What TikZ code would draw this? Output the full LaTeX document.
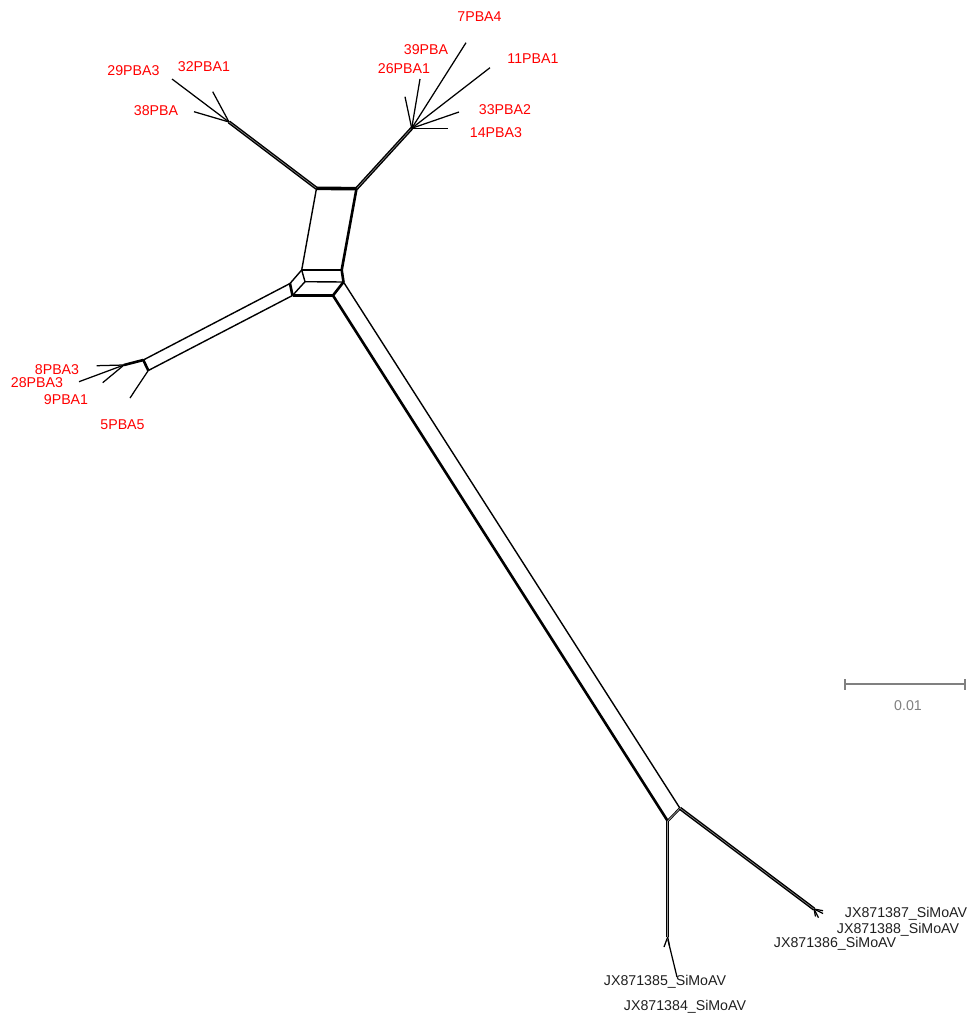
\documentclass[tikz,border=0pt]{standalone}
\usepackage{fontspec}
\setmainfont{Liberation Sans}
\begin{document}
\begin{tikzpicture}[x=1pt,y=-1pt,
  leaf/.style={line width=1.25pt},
  thinedge/.style={line width=1.4pt},
  boldedge/.style={line width=2.6pt},
  heavyedge/.style={line width=3.6pt},
  dbl/.style={double=black!40, double distance=0.5pt, line width=1.45pt},
  dblthin/.style={double=black!30, double distance=0.6pt, line width=0.9pt},
  lab/.style={inner sep=0pt, font=\fontsize{14.2}{16}\selectfont},
  redlab/.style={lab, text=red},
  blklab/.style={lab, text=black!88},
  scalecol/.style={draw=black!50, line width=1.4pt}
]
\useasboundingbox (0,0) rectangle (973,1018);

% network vertices
\coordinate (J1) at (229,122);
\coordinate (J2) at (411.7,128.3);
\coordinate (H) at (316.5,188.3);
\coordinate (I) at (356.5,188.7);
\coordinate (A) at (301.7,270);
\coordinate (B) at (341.7,270);
\coordinate (C) at (305,281.7);
\coordinate (D) at (343.5,282);
\coordinate (G) at (290,283.5);
\coordinate (E) at (292.5,295.5);
\coordinate (F) at (333,295.5);
\coordinate (L1) at (124,365);
\coordinate (L2) at (143.3,360);
\coordinate (L3) at (148.3,370.5);
\coordinate (P) at (667.7,821);
\coordinate (Q) at (680,808.3);
\coordinate (R) at (667.7,937);
\coordinate (S) at (814,909);

% leaf tips
\coordinate (t29) at (172,79);
\coordinate (t32) at (212.7,91.7);
\coordinate (t38) at (194,111.7);
\coordinate (t7) at (466,42.7);
\coordinate (t11) at (490,67.7);
\coordinate (t39) at (420,79);
\coordinate (t26) at (405,96.7);
\coordinate (t33) at (459,112);
\coordinate (t14) at (448,128.3);
\coordinate (t8) at (96.7,365.7);
\coordinate (t28) at (79,381.7);
\coordinate (t9) at (102.7,382.7);
\coordinate (t5) at (130,398);
\coordinate (R1) at (668,940);
\coordinate (t85) at (677,977);
\coordinate (t84a) at (664,947);
\coordinate (t84b) at (669.5,946);
\coordinate (s1) at (823,910.7);
\coordinate (s2) at (823,913.5);
\coordinate (s3) at (818.5,917.7);
\coordinate (s4) at (815.5,916.5);

% central splits
\draw[dbl] (J1) -- (H);
\draw[dbl] (J2) -- (I);
\draw[heavyedge] (H) -- (I);
\draw[thinedge] (H) -- (A);
\draw[boldedge] (I) -- (B);
\draw[boldedge] (A) -- (B);
\draw[thinedge] (A) -- (C);
\draw[thinedge] (C) -- (D);
\draw[boldedge] (B) -- (D);
\draw[thinedge] (A) -- (G);
\draw[boldedge] (G) -- (E);
\draw[thinedge] (C) -- (E);
\draw[boldedge] (E) -- (F);
\draw[boldedge] (D) -- (F);
\draw[thinedge] (L2) -- (G);
\draw[thinedge] (L3) -- (E);
\draw[boldedge] (L2) -- (L3);
\draw[boldedge] (L1) -- (L2);
\draw[boldedge] (F) -- (P);
\draw[thinedge] (D) -- (Q);
\draw[dblthin] (P) -- (Q);
\draw[dbl] (P) -- (R);
\draw[dbl] (Q) -- (S);

% leaves
\draw[leaf] (J1) -- (t29);
\draw[leaf] (J1) -- (t32);
\draw[leaf] (J1) -- (t38);
\draw[leaf] (J2) -- (t7);
\draw[leaf] (J2) -- (t11);
\draw[leaf] (J2) -- (t39);
\draw[leaf] (J2) -- (t26);
\draw[leaf] (J2) -- (t33);
\draw[leaf] (J2) -- (t14);
\draw[leaf] (L1) -- (t8);
\draw[leaf] (L1) -- (t28);
\draw[leaf] (L1) -- (t9);
\draw[leaf] (L3) -- (t5);
\draw[leaf] (R) -- (t84a);
\draw[leaf] (R) -- (t84b);
\draw[leaf] (R1) -- (t85);
\draw[leaf] (S) -- (s1);
\draw[leaf] (S) -- (s2);
\draw[leaf] (S) -- (s3);
\draw[leaf] (S) -- (s4);

% labels
\node[redlab] (n29) at (133.5,70.7) {29PBA3};
\node[redlab] (n32) at (204,67) {32PBA1};
\node[redlab] (n38) at (156,111) {38PBA};
\node[redlab] (n7) at (479.5,17) {7PBA4};
\node[redlab] (n39) at (426,50) {39PBA};
\node[redlab] (n26) at (404,69) {26PBA1};
\node[redlab] (n11) at (533,59) {11PBA1};
\node[redlab] (n33) at (505,109.5) {33PBA2};
\node[redlab] (n14) at (496,133) {14PBA3};
\node[redlab] (n8) at (57,370) {8PBA3};
\node[redlab] (n28) at (37,383) {28PBA3};
\node[redlab] (n9) at (66,400) {9PBA1};
\node[redlab] (n5) at (122.5,425) {5PBA5};
\node[blklab] (x87) at (906,914) {JX871387\_SiMoAV};
\node[blklab] (x88) at (898,930) {JX871388\_SiMoAV};
\node[blklab] (x86) at (835,943.5) {JX871386\_SiMoAV};
\node[blklab] (x85) at (665,982) {JX871385\_SiMoAV};
\node[blklab] (x84) at (685,1007) {JX871384\_SiMoAV};

% scale bar
\coordinate (sbL) at (845,684);
\coordinate (sbR) at (965,684);
\draw[scalecol] (sbL) -- (sbR);
\draw[scalecol] ([yshift=-5.5pt]sbL) -- ([yshift=5.5pt]sbL);
\draw[scalecol] ([yshift=-5.5pt]sbR) -- ([yshift=5.5pt]sbR);
\node[lab, text=black!50] (sbt) at (908,706) {0.01};
\end{tikzpicture}
\end{document}
